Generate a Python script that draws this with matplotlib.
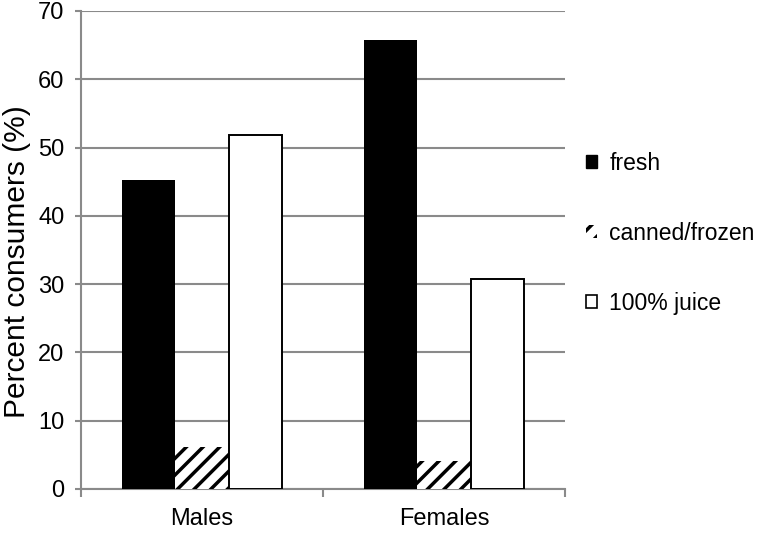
import matplotlib
matplotlib.use('Agg')
import matplotlib.pyplot as plt
import numpy as np
from matplotlib.patches import Patch

# Data
groups = ['Males', 'Females']
series = ['fresh', 'canned/frozen', '100% juice']
fresh = [45.2, 65.8]
canned = [6.2, 4.1]
juice = [51.8, 30.7]

plt.rcParams['font.family'] = ['Liberation Sans', 'DejaVu Sans']
plt.rcParams['hatch.linewidth'] = 2.5
grey = '#8a8a8a'
fs = 17

fig = plt.figure(figsize=(7.61, 5.33), dpi=100)
ax = fig.add_axes([0.1064, 0.0826, 0.636, 0.8968])

x = np.arange(len(groups))
w = 0.221
ax.bar(x - w, fresh, w, color='black', edgecolor='black', linewidth=0, zorder=3)
ax.bar(x, canned, w, color='white', edgecolor='black', hatch='//', linewidth=0, zorder=3)
ax.bar(x + w, juice, w, color='white', edgecolor='black', linewidth=1.4, zorder=3)

ax.set_xlim(-0.5, 1.5)
ax.set_ylim(0, 70)
ax.set_yticks(np.arange(0, 71, 10))
ax.yaxis.grid(True, color=grey, linewidth=1.5, zorder=0)
ax.set_axisbelow(True)

for s in ['top', 'right']:
    ax.spines[s].set_visible(False)
for s in ['left', 'bottom']:
    ax.spines[s].set_color(grey)
    ax.spines[s].set_linewidth(1.5)

ax.set_xticks(x)
ax.set_xticklabels(groups)
ax.set_xticks([-0.5, 0.5, 1.5], minor=True)
ax.tick_params(axis='x', which='major', length=0, pad=14, labelsize=fs)
ax.tick_params(axis='x', which='minor', length=6, width=1.5, color=grey, direction='out')
ax.tick_params(axis='y', length=4, width=1.5, color=grey, pad=8, labelsize=fs)

ax.set_ylabel('Percent consumers (%)', fontsize=21.5)
ax.yaxis.set_label_coords(-0.104, 0.475)

handles = [Patch(facecolor='black', edgecolor='black'),
           Patch(facecolor='white', edgecolor='black', hatch='//', linewidth=0),
           Patch(facecolor='white', edgecolor='black', linewidth=1.2)]
ax.legend(handles, series, loc='center left', bbox_to_anchor=(1.025, 0.535),
          frameon=False, fontsize=16.5, handlelength=0.45, handleheight=0.45,
          handletextpad=0.55, labelspacing=2.05, borderaxespad=0)

fig.savefig('out.png', dpi=100)
